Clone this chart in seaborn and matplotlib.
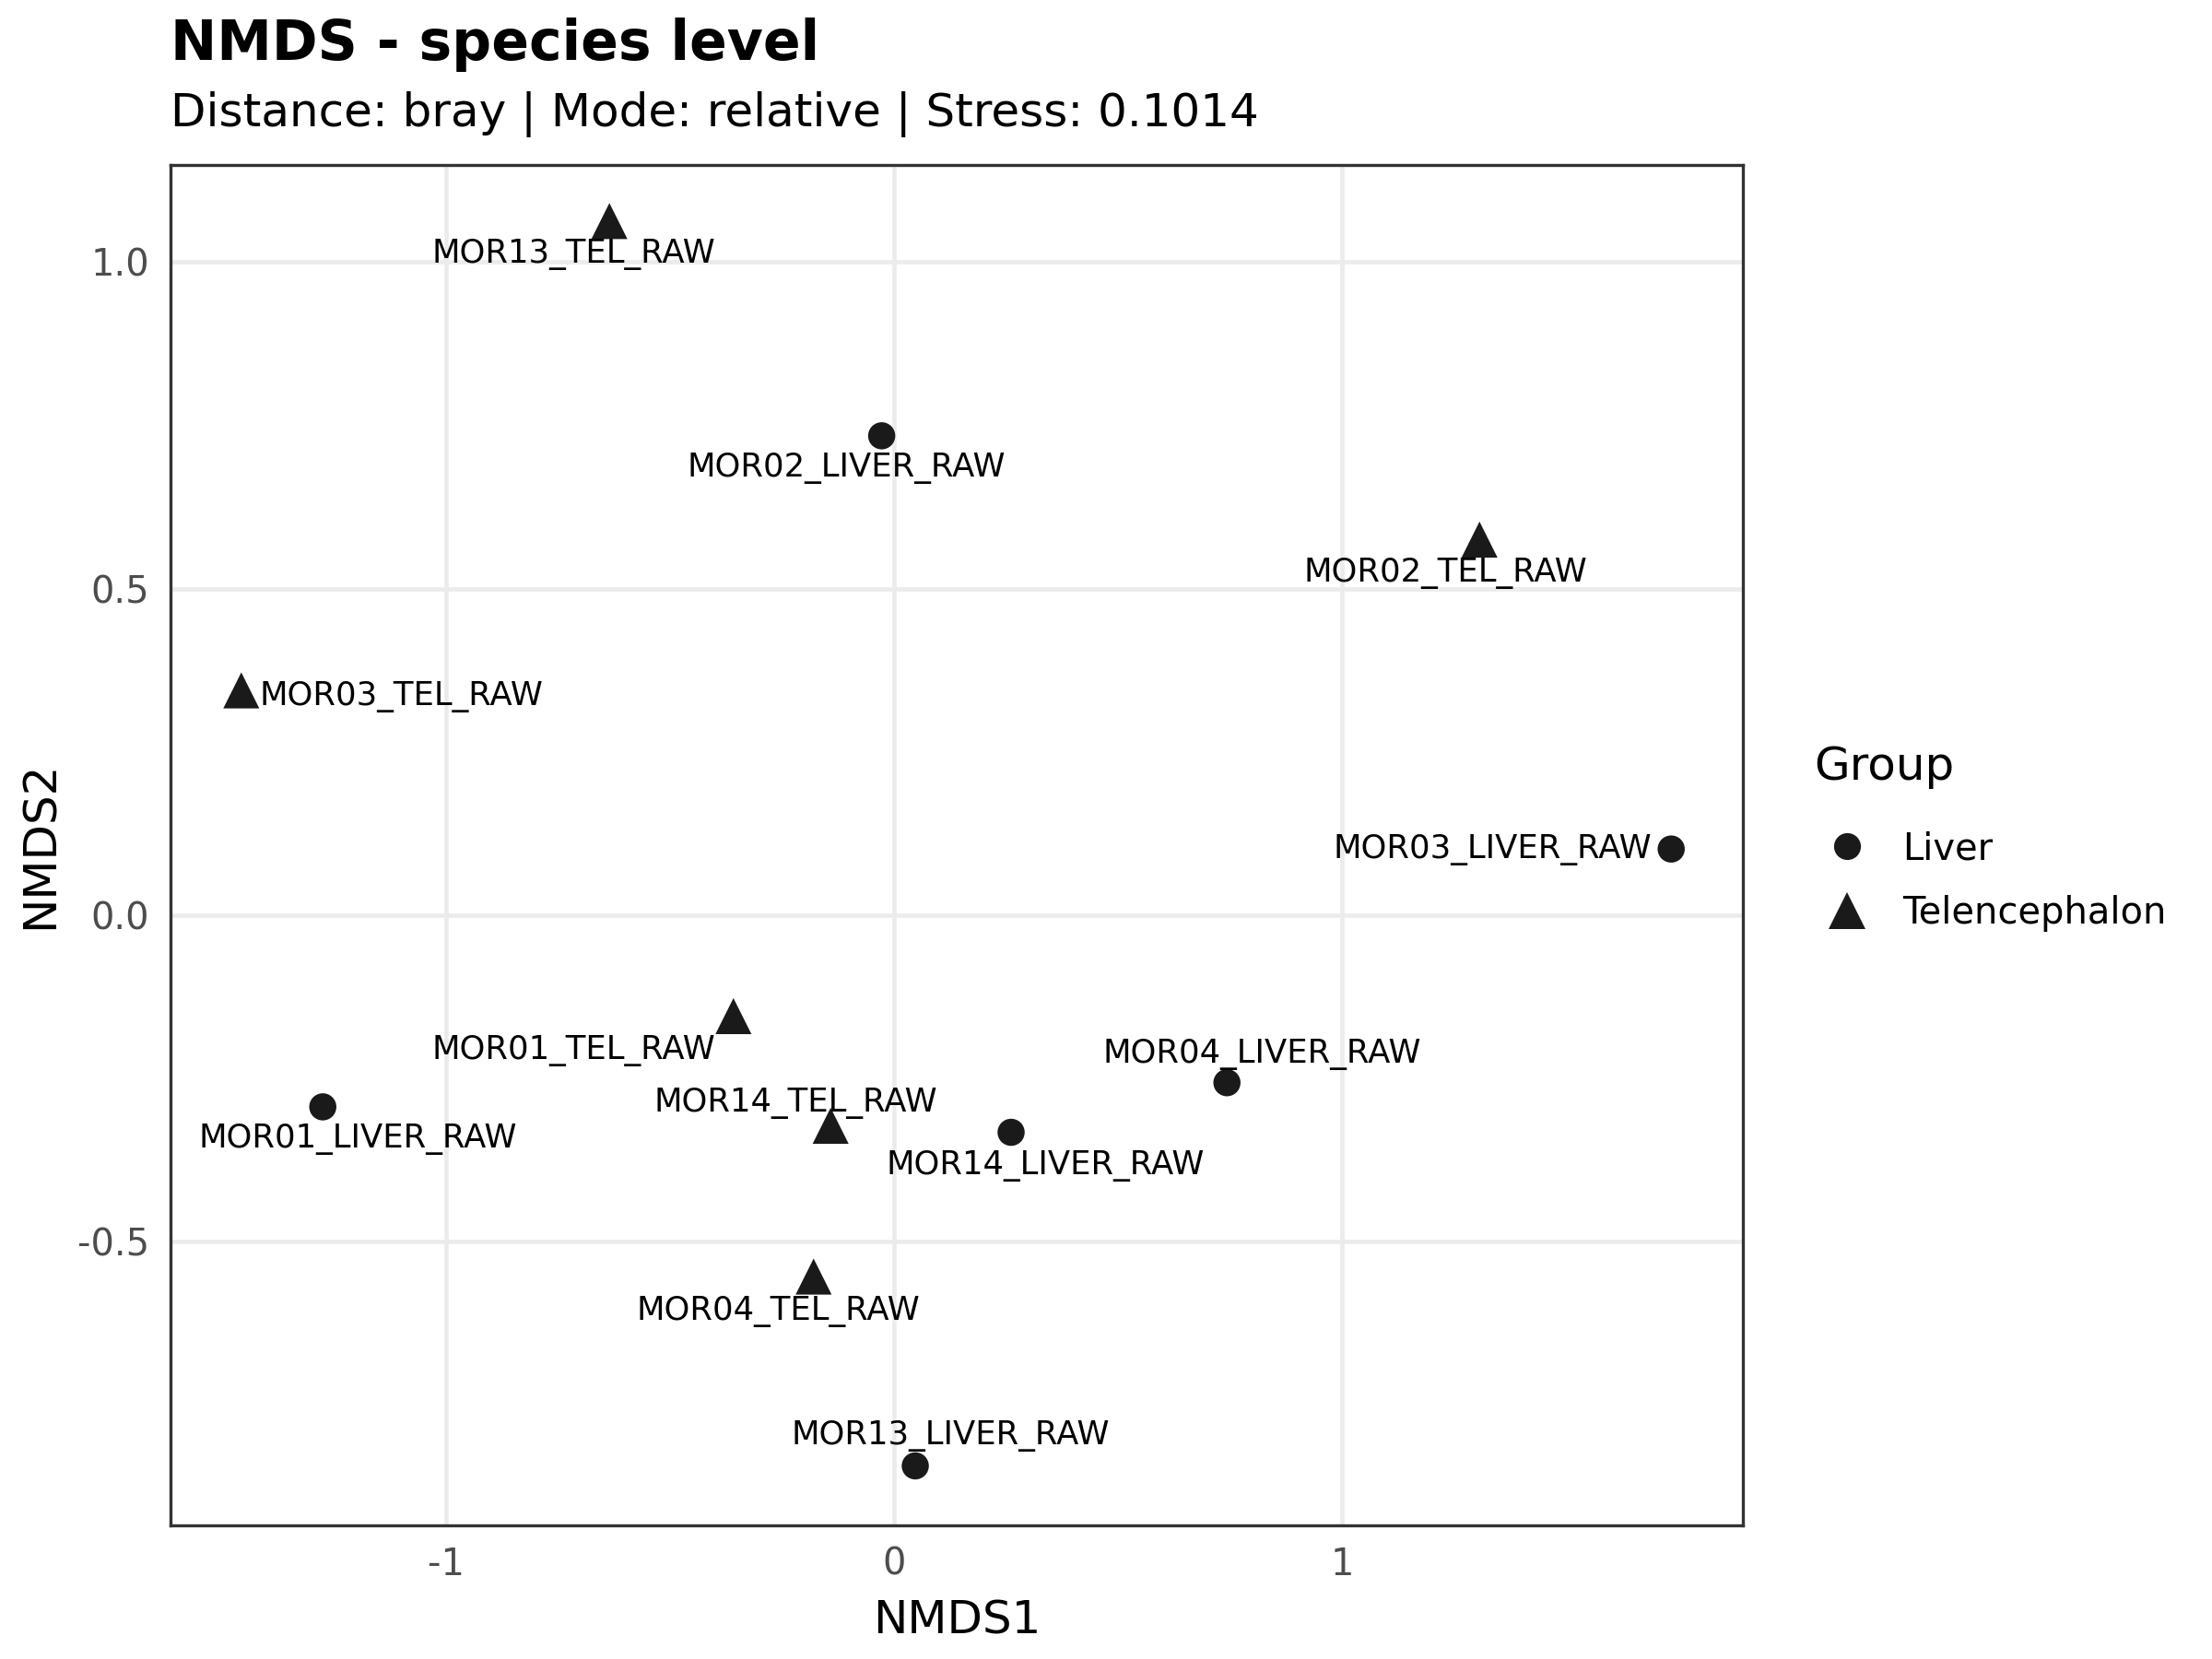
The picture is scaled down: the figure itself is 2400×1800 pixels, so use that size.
import matplotlib
matplotlib.use("Agg")
import matplotlib.pyplot as plt
from matplotlib.lines import Line2D
import pandas as pd
import seaborn as sns

# NMDS scores
samples = ['MOR13_TEL_RAW', 'MOR02_LIVER_RAW', 'MOR02_TEL_RAW', 'MOR03_TEL_RAW',
           'MOR03_LIVER_RAW', 'MOR01_TEL_RAW', 'MOR01_LIVER_RAW', 'MOR14_TEL_RAW',
           'MOR14_LIVER_RAW', 'MOR04_LIVER_RAW', 'MOR04_TEL_RAW', 'MOR13_LIVER_RAW']
groups = ['Telencephalon', 'Liver', 'Telencephalon', 'Telencephalon',
          'Liver', 'Telencephalon', 'Liver', 'Telencephalon',
          'Liver', 'Liver', 'Telencephalon', 'Liver']
nmds1 = [-0.636, -0.028, 1.307, -1.458, 1.735, -0.359, -1.276, -0.142, 0.261, 0.743, -0.180, 0.047]
nmds2 = [1.063, 0.734, 0.575, 0.344, 0.101, -0.155, -0.294, -0.323, -0.333, -0.257, -0.554, -0.844]

# label placement (offset in points, horizontal alignment), mimicking ggrepel
label_offsets = [(-9.2, -8.8, 'center'), (-9.2, -8.4, 'center'), (-8.8, -8.8, 'center'),
                 (4.8, -1.6, 'left'), (-5.1, -0.3, 'right'), (-4.8, -9.0, 'right'),
                 (9.2, -8.4, 'center'), (-9.2, 5.9, 'center'), (8.8, -8.7, 'center'),
                 (9.2, 7.4, 'center'), (-9.2, -9.0, 'center'), (9.2, 7.8, 'center')]

df = pd.DataFrame({'Sample': samples, 'Group': groups, 'NMDS1': nmds1, 'NMDS2': nmds2})

sns.set_style('white')
plt.rcParams['font.family'] = ['DejaVu Sans']
plt.rcParams['axes.unicode_minus'] = False
plt.rcParams['text.color'] = 'black'
plt.rcParams['axes.labelcolor'] = 'black'

fig = plt.figure(figsize=(8, 6), dpi=300)
ax = fig.add_axes([0.0771, 0.0806, 0.711, 0.820])

pt_color = '#1a1a1a'
marker_map = {'Liver': ('o', 50), 'Telencephalon': ('^', 88)}
for g, (mk, sz) in marker_map.items():
    sub = df[df['Group'] == g]
    sns.scatterplot(data=sub, x='NMDS1', y='NMDS2', marker=mk, s=sz, color=pt_color,
                    edgecolor='none', linewidth=0, legend=False, ax=ax, zorder=3)

for i, row in df.iterrows():
    dx, dy, ha = label_offsets[i]
    ax.annotate(row['Sample'], (row['NMDS1'], row['NMDS2']), xytext=(dx, dy),
                textcoords='offset points', ha=ha, va='center', fontsize=8.5,
                color='black', zorder=4)

ax.set_xlim(-1.616, 1.896)
ax.set_ylim(-0.935, 1.149)
ax.set_xticks([-1, 0, 1])
ax.set_xticklabels(['-1', '0', '1'])
ax.set_yticks([-0.5, 0.0, 0.5, 1.0])
ax.set_yticklabels(['-0.5', '0.0', '0.5', '1.0'])
ax.grid(True, color='#ebebeb', linewidth=1.1, zorder=0)
ax.set_axisbelow(True)
for sp in ax.spines.values():
    sp.set_visible(True)
    sp.set_color('#333333')
    sp.set_linewidth(0.8)
ax.tick_params(axis='both', length=3, width=0.8, color='#333333',
               labelsize=9.6, labelcolor='#4d4d4d', pad=2.5)
ax.set_xlabel('NMDS1', fontsize=12, color='black', labelpad=4)
ax.set_ylabel('NMDS2', fontsize=12, color='black', labelpad=4)

fig.text(0.0771, 0.973, 'NMDS - species level', fontsize=14.4, fontweight='bold',
         ha='left', va='center', color='black')
fig.text(0.0771, 0.931, 'Distance: bray | Mode: relative | Stress: 0.1014', fontsize=12,
         ha='left', va='center', color='black')

handles = [Line2D([], [], marker='o', linestyle='', color=pt_color, markersize=7, markeredgewidth=0),
           Line2D([], [], marker='^', linestyle='', color=pt_color, markersize=9.4, markeredgewidth=0)]
leg = ax.legend(handles, ['Liver', 'Telencephalon'], title='Group', loc='center left',
                bbox_to_anchor=(1.0448, 0.505), frameon=False, fontsize=9.6,
                title_fontsize=12, handlelength=1.8, handletextpad=0.6,
                labelspacing=0.75, borderpad=0, borderaxespad=0)
leg._legend_box.align = 'left'
leg._legend_box.sep = 11
leg.get_title().set_color('black')

fig.savefig('out.png', dpi=300)
